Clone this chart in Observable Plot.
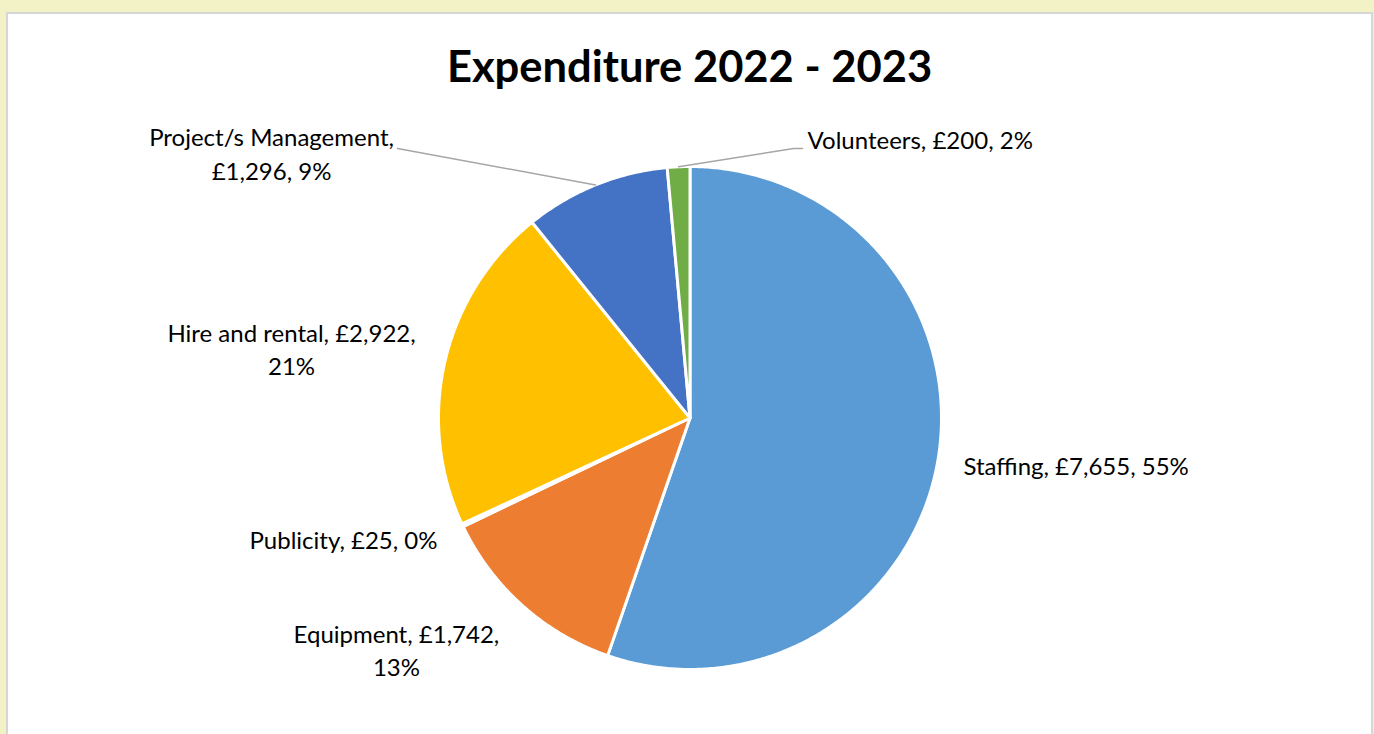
<!DOCTYPE html>
<html>
<head>
<meta charset="utf-8">
<script src="https://cdn.jsdelivr.net/npm/d3@7"></script>
<script src="https://cdn.jsdelivr.net/npm/@observablehq/plot@0.6"></script>
<style>
  html, body { margin: 0; padding: 0; }
  body { width: 1374px; height: 734px; background: #f2f2c6; position: relative; overflow: hidden; font-family: Lato, "Open Sans", sans-serif; }
  #panel { position: absolute; left: 6px; top: 12px; width: 1363px; height: 740px; background: #fff; border: 2px solid #d6d6d6; }
  #title { position: absolute; left: 5px; width: 1369px; top: 39px; text-align: center; font-size: 43.5px; line-height: 1.2; font-weight: 700; color: #000; }
  #chart { position: absolute; left: 0; top: 100px; }
</style>
</head>
<body>
<div id="panel"></div>
<div id="title">Expenditure 2022 - 2023</div>
<div id="chart"></div>
<script>
// ---- data ----
const categories = ["Staffing", "Equipment", "Publicity", "Hire and rental", "Project/s Management", "Volunteers"];
const amounts = [7655, 1742, 25, 2922, 1296, 200];
const amountLabels = ["£7,655", "£1,742", "£25", "£2,922", "£1,296", "£200"];
const percentLabels = ["55%", "13%", "0%", "21%", "9%", "2%"];
const colors = ["#5B9BD5", "#ED7D31", "#A5A5A5", "#FFC000", "#4472C4", "#70AD47"];

// ---- layout (pixel offsets of labels from each slice's outer mid point) ----
const W = 1374, H = 634, CX = 689.5, CY = 317.5, R = 251.5;
const labelLayout = [
  {dx: 25.5, dy: 4.2, anchor: "start", wrap: -1},
  {dx: -126, dy: 43, anchor: "middle", wrap: 2},
  {dx: -25, dy: 12.8, anchor: "end", wrap: -1},
  {dx: -153.5, dy: -13.5, anchor: "middle", wrap: 2},
  {dx: -324, dy: -32.5, anchor: "middle", wrap: 1},
  {dx: 129, dy: -28.8, anchor: "start", wrap: -1}
];
const leaderLayout = [
  null, null, null, null,
  [[-198, -36.4]],
  [[115, -18.3], [124, -18.3]]
];

const arcs = d3.pie().sort(null)(amounts);

const slicePts = [];
arcs.forEach((a, i) => {
  slicePts.push({cat: categories[i], x: 0, y: 0});
  const n = Math.max(2, Math.ceil((a.endAngle - a.startAngle) / (Math.PI / 360)));
  for (let k = 0; k <= n; k++) {
    const t = a.startAngle + (a.endAngle - a.startAngle) * k / n;
    slicePts.push({cat: categories[i], x: Math.sin(t), y: Math.cos(t)});
  }
});

const labels = arcs.map((a, i) => {
  const mid = (a.startAngle + a.endAngle) / 2;
  const parts = [categories[i], amountLabels[i], percentLabels[i]];
  const L = labelLayout[i];
  let text;
  if (L.wrap > 0) text = parts.slice(0, L.wrap).join(", ") + ",\n" + parts.slice(L.wrap).join(", ");
  else text = parts.join(", ");
  return {cat: categories[i], text, anchor: L.anchor,
          x: Math.sin(mid) + L.dx / R, y: Math.cos(mid) - L.dy / R};
});

const leaderPts = [];
arcs.forEach((a, i) => {
  if (!leaderLayout[i]) return;
  const mid = (a.startAngle + a.endAngle) / 2;
  const mx = Math.sin(mid), my = Math.cos(mid);
  leaderPts.push({cat: categories[i], x: mx, y: my});
  leaderLayout[i].forEach(([dx, dy]) => leaderPts.push({cat: categories[i], x: mx + dx / R, y: my - dy / R}));
});

const textOpts = {x: "x", y: "y", text: "text", fontSize: 24, lineHeight: 1.4, fill: "#000", fontFamily: "Lato, 'Open Sans', sans-serif"};

const chart = Plot.plot({
  width: W,
  height: H,
  margin: 0,
  style: {background: "transparent", overflow: "visible"},
  x: {domain: [-1, 1], range: [CX - R, CX + R], axis: null},
  y: {domain: [-1, 1], range: [CY + R, CY - R], axis: null},
  color: {domain: categories, range: colors},
  marks: [
    Plot.line(slicePts, {x: "x", y: "y", z: "cat", fill: "cat", stroke: "white", strokeWidth: 3, strokeLinejoin: "round", curve: "linear-closed"}),
    Plot.line(leaderPts, {x: "x", y: "y", z: "cat", stroke: "#a6a6a6", strokeWidth: 1.5}),
    Plot.text(labels.filter(d => d.anchor === "start"), {...textOpts, textAnchor: "start"}),
    Plot.text(labels.filter(d => d.anchor === "middle"), {...textOpts, textAnchor: "middle"}),
    Plot.text(labels.filter(d => d.anchor === "end"), {...textOpts, textAnchor: "end"})
  ]
});
document.getElementById("chart").appendChild(chart);
</script>
</body>
</html>
